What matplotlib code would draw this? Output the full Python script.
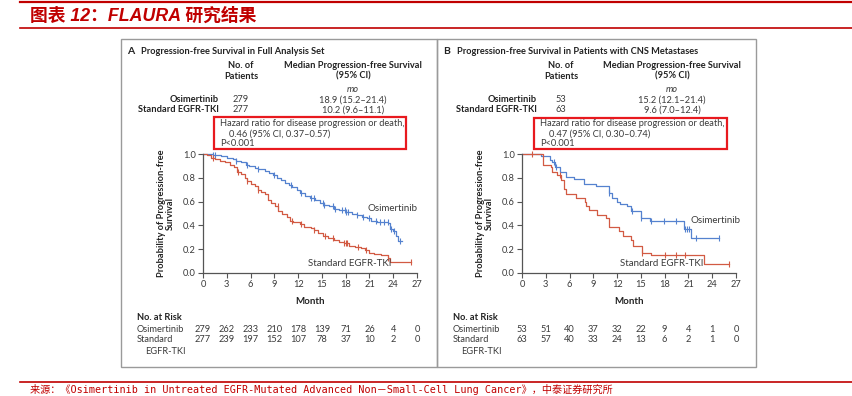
import numpy as np
import matplotlib
matplotlib.use("Agg")
import matplotlib.pyplot as plt
from matplotlib import font_manager
from matplotlib.patches import Rectangle
from matplotlib.transforms import blended_transform_factory

# ---- data ----
months = [0, 3, 6, 9, 12, 15, 18, 21, 24, 27]
y_ticks = [0.0, 0.2, 0.4, 0.6, 0.8, 1.0]

# panel A : full analysis set
a_osi_t = [0, 1.2, 2.3, 3.0, 3.8, 4.2, 4.8, 5.4, 5.8, 6.5, 7.0, 7.8, 8.3, 8.8, 9.3, 9.9,
           10.4, 10.9, 11.2, 11.8, 12.3, 12.9, 13.5, 14.1, 14.8, 15.3, 15.9, 16.5, 17.2,
           18.0, 18.8, 19.4, 20.0, 20.7, 21.2, 21.9, 23.4, 23.6, 24.0, 24.4, 24.6, 25.1]
a_osi_s = [1.0, 0.99, 0.98, 0.97, 0.96, 0.945, 0.93, 0.91, 0.90, 0.885, 0.87, 0.855, 0.84,
           0.82, 0.80, 0.78, 0.76, 0.74, 0.72, 0.70, 0.67, 0.65, 0.63, 0.61, 0.59, 0.57,
           0.56, 0.54, 0.53, 0.51, 0.50, 0.49, 0.47, 0.46, 0.44, 0.43, 0.42, 0.37, 0.35,
           0.31, 0.27, 0.27]
a_osi_cens = [1.3, 1.5, 4.2, 5.5, 7.0, 9.0, 11.1, 12.4, 13.6, 14.0, 15.1, 15.3, 16.4, 16.7,
              17.6, 17.9, 18.1, 18.3, 19.4, 20.2, 21.0, 21.8, 22.3, 22.8, 23.3, 23.7, 24.1, 24.9]
a_std_t = [0, 0.5, 1.0, 1.5, 2.2, 2.8, 3.4, 3.9, 4.3, 4.8, 5.3, 5.6, 6.0, 6.5, 6.9, 7.3, 7.8,
           8.2, 8.6, 9.1, 9.5, 10.0, 10.6, 11.0, 11.4, 12.2, 12.8, 13.6, 14.0, 14.5, 15.2,
           15.8, 16.5, 17.2, 17.8, 18.4, 19.2, 19.9, 20.5, 21.0, 21.6, 22.4, 23.4, 23.6, 26.3]
a_std_s = [1.0, 0.99, 0.97, 0.955, 0.94, 0.93, 0.91, 0.89, 0.85, 0.83, 0.80, 0.77, 0.75,
           0.73, 0.70, 0.68, 0.66, 0.61, 0.59, 0.56, 0.52, 0.50, 0.47, 0.44, 0.43, 0.41,
           0.39, 0.38, 0.36, 0.34, 0.31, 0.29, 0.28, 0.26, 0.25, 0.23, 0.22, 0.21, 0.19,
           0.17, 0.16, 0.15, 0.13, 0.09, 0.09]
a_std_cens = [1.2, 4.4, 5.6, 7.0, 9.4, 11.2, 12.4, 14.0, 15.4, 16.4, 17.8, 18.0, 18.2, 19.6,
              20.6, 23.4, 26.3]
a_risk_osi = [279, 262, 233, 210, 178, 139, 71, 26, 4, 0]
a_risk_std = [277, 239, 197, 152, 107, 78, 37, 10, 2, 0]

# panel B : CNS metastases
b_osi_t = [0, 2.4, 3.5, 3.8, 4.2, 4.8, 5.5, 6.6, 7.8, 9.3, 11.0, 11.4, 12.0, 12.4, 13.3,
           13.7, 15.0, 16.2, 20.5, 21.3, 24.9]
b_osi_s = [1.0, 0.98, 0.95, 0.93, 0.89, 0.85, 0.81, 0.79, 0.75, 0.73, 0.67, 0.63, 0.60,
           0.58, 0.56, 0.52, 0.46, 0.44, 0.37, 0.29, 0.29]
b_osi_cens = [4.1, 4.3, 11.0, 13.9, 15.0, 16.3, 17.9, 19.4, 20.6, 20.8, 21.1, 21.9, 24.9]
b_std_t = [0, 2.6, 3.6, 3.8, 4.4, 4.9, 5.3, 5.6, 6.8, 7.9, 8.1, 8.4, 9.5, 10.6, 11.0, 12.2,
           12.7, 13.8, 14.0, 15.2, 16.3, 23.0, 26.1]
b_std_s = [1.0, 0.91, 0.89, 0.85, 0.82, 0.78, 0.71, 0.665, 0.63, 0.60, 0.56, 0.53, 0.49,
           0.46, 0.39, 0.35, 0.31, 0.28, 0.23, 0.17, 0.155, 0.075, 0.075]
b_std_cens = [1.3, 4.8, 15.2, 18.0, 19.4, 20.6, 26.1]
b_risk_osi = [53, 51, 40, 37, 32, 22, 9, 4, 1, 0]
b_risk_std = [63, 57, 40, 33, 24, 13, 6, 2, 1, 0]

names = {f.name for f in font_manager.fontManager.ttflist}
body = "Liberation Sans Narrow" if "Liberation Sans Narrow" in names else "Lato"
plt.rcParams["font.family"] = [body, "DejaVu Sans"]

RED = "#c00000"
BLUE = "#5582cf"
ORANGE = "#d25a43"
GREY = "#3a3a3a"

fig = plt.figure(figsize=(8.53, 3.96), dpi=100)
ov = fig.add_axes([0, 0, 1, 1])
ov.set_xlim(0, 853)
ov.set_ylim(396, 0)
ov.axis("off")

# header
ov.plot([20, 853], [2, 2], color=RED, lw=1.6)
ov.plot([20, 853], [28, 28], color=RED, lw=1.2)
ov.text(30, 16, "图表 12：FLAURA 研究结果", color=RED, fontsize=12.8, fontweight="bold",
        fontstyle="italic", family=["Liberation Sans", "Noto Sans CJK SC"], va="center")
ov.plot([20, 853], [382, 382], color=RED, lw=1.2)
ov.text(30, 389.5, "来源：《Osimertinib in Untreated EGFR-Mutated Advanced Non－Small-Cell Lung Cancer》，中泰证券研究所",
        color=RED, fontsize=7.3, family=["DejaVu Sans Mono", "Noto Sans CJK SC"], va="center")

fs = 6.7


def km_panel(ox, letter, title, x0, stats, box, hr_text, curves, risk, lbl):
    # frame of the panel
    ov.add_patch(Rectangle((ox[0], 39), ox[1] - ox[0], 328, fill=False, ec="#9a9a9a", lw=1))
    ov.text(ox[0] + 6, 51, letter, fontsize=7.5, fontweight="bold", va="center", color="#222")
    ov.text(ox[0] + 20, 51, title, fontsize=fs, fontweight="bold", va="center", color="#222")
    cx_n, cx_m, rx = stats
    ov.text(cx_n, 71, "No. of\nPatients", fontsize=fs, fontweight="bold", ha="center",
            va="center", color="#222", linespacing=1.15)
    ov.text(cx_m, 71, "Median Progression-free Survival\n(95% CI)", fontsize=fs,
            fontweight="bold", ha="center", va="center", color="#222", linespacing=1.15)
    ov.text(cx_m, 89, "mo", fontsize=fs, fontstyle="italic", ha="center", va="center", color=GREY)
    for yy, (name, n, med) in zip([100, 110], hr_text[0]):
        ov.text(rx, yy, name, fontsize=fs, fontweight="bold", ha="right", va="center", color="#222")
        ov.text(cx_n, yy, n, fontsize=fs, ha="center", va="center", color=GREY)
        ov.text(cx_m, yy, med, fontsize=fs, ha="center", va="center", color=GREY)
    bx0, by0, bx1, by1 = box
    ov.add_patch(Rectangle((bx0, by0), bx1 - bx0, by1 - by0, fill=False, ec="#e8191e", lw=1.6))
    ov.text(bx0 + 6, 123, "Hazard ratio for disease progression or death,", fontsize=fs,
            va="center", color=GREY)
    ov.text(bx0 + 15, 134, hr_text[1], fontsize=fs, va="center", color=GREY)
    ov.text(bx0 + 6, 144, "P<0.001", fontsize=fs, va="center", color=GREY)

    ax = fig.add_axes([x0 / 853, 1 - 273 / 396, 214 / 853, 119 / 396])
    for (t, s, cens, col) in curves:
        t = np.asarray(t)
        s = np.asarray(s)
        ax.step(t, s, where="post", color=col, lw=0.9, clip_on=False)
        idx = np.searchsorted(t, cens, side="right") - 1
        ax.plot(cens, s[idx], ls="none", marker="|", ms=5, mew=0.8, color=col, clip_on=False)
    ax.set_xlim(0, 27)
    ax.set_ylim(0, 1.0)
    ax.set_xticks(months)
    ax.set_yticks(y_ticks)
    ax.set_yticklabels([f"{v:.1f}" for v in y_ticks])
    ax.tick_params(direction="out", length=3.5, width=0.8, labelsize=fs, colors="#555",
                   labelcolor=GREY, pad=1.5)
    for sp in ["top", "right"]:
        ax.spines[sp].set_visible(False)
    for sp in ["left", "bottom"]:
        ax.spines[sp].set_color("#555")
        ax.spines[sp].set_linewidth(0.9)
    ax.patch.set_alpha(0)
    ax.set_xlabel("Month", fontsize=7, fontweight="bold", color="#222", labelpad=6)
    ax.set_ylabel("Probability of Progression-free\nSurvival", fontsize=fs, fontweight="bold",
                  color="#222", labelpad=6, linespacing=1.0)
    (ox_l, oy_l), (sx_l, sy_l) = lbl
    ax.text(ox_l, oy_l, "Osimertinib", fontsize=7, color=GREY, va="center")
    ax.text(sx_l, sy_l, "Standard EGFR-TKI", fontsize=7, color=GREY, va="center")

    # numbers at risk under the month ticks
    tr = blended_transform_factory(ax.transData, ov.transData)
    ov.text(ox[0] + 16, 317, "No. at Risk", fontsize=fs, fontweight="bold", va="center", color="#222")
    ov.text(ox[0] + 16, 329, "Osimertinib", fontsize=fs, va="center", color=GREY)
    ov.text(ox[0] + 16, 340, "Standard", fontsize=fs, va="center", color=GREY)
    ov.text(ox[0] + 24, 351, "EGFR-TKI", fontsize=fs, va="center", color=GREY)
    for m, r1, r2 in zip(months, risk[0], risk[1]):
        ov.text(m, 329, str(r1), transform=tr, fontsize=fs, ha="center", va="center", color=GREY)
        ov.text(m, 340, str(r2), transform=tr, fontsize=fs, ha="center", va="center", color=GREY)
    return ax


km_panel((121, 437), "A", "Progression-free Survival in Full Analysis Set", 203,
         (241, 353, 219), (214, 117, 406, 149),
         ([("Osimertinib", "279", "18.9 (15.2–21.4)"),
           ("Standard EGFR-TKI", "277", "10.2 (9.6–11.1)")], "0.46 (95% CI, 0.37–0.57)"),
         [(a_osi_t, a_osi_s, a_osi_cens, BLUE), (a_std_t, a_std_s, a_std_cens, ORANGE)],
         (a_risk_osi, a_risk_std), ((20.7, 0.54), (13.2, 0.08)))

km_panel((437, 756), "B", "Progression-free Survival in Patients with CNS Metastases", 522,
         (561, 672, 537), (534, 118, 727, 149),
         ([("Osimertinib", "53", "15.2 (12.1–21.4)"),
           ("Standard EGFR-TKI", "63", "9.6 (7.0–12.4)")], "0.47 (95% CI, 0.30–0.74)"),
         [(b_osi_t, b_osi_s, b_osi_cens, BLUE), (b_std_t, b_std_s, b_std_cens, ORANGE)],
         (b_risk_osi, b_risk_std), ((21.2, 0.445), (12.4, 0.076)))

fig.savefig("out.png", dpi=100)
